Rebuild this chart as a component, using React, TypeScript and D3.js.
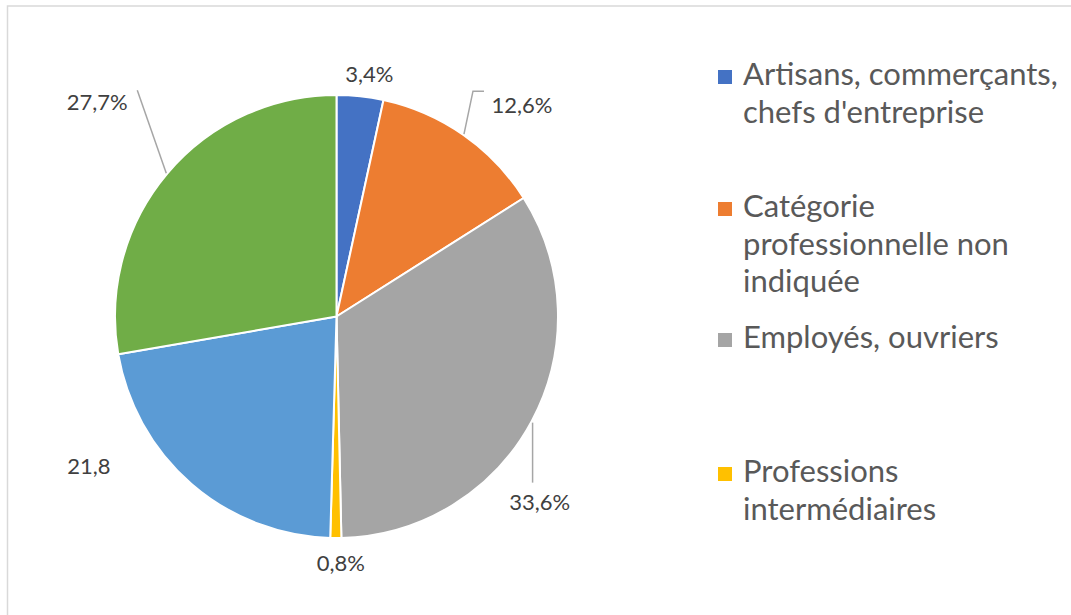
import React, { useEffect, useRef } from 'react'
import * as d3 from 'd3'

// slice data, clockwise from 12 o'clock
const categories = [
  'Artisans, commerçants, chefs d\'entreprise',
  'Catégorie professionnelle non indiquée',
  'Employés, ouvriers',
  'Professions intermédiaires',
  'Cadres',
  'Retraités',
]
const values = [3.4, 12.6, 33.6, 0.8, 21.8, 27.7]
const valueLabels = ['3,4%', '12,6%', '33,6%', '0,8%', '21,8', '27,7%']
const colors = ['#4472C4', '#ED7D31', '#A5A5A5', '#FFC000', '#5B9BD5', '#70AD47']

// legend as shown (only the first four fit in the box)
const legendLines = [
  ['Artisans, commerçants,', "chefs d'entreprise"],
  ['Catégorie', 'professionnelle non', 'indiquée'],
  ['Employés, ouvriers'],
  ['Professions', 'intermédiaires'],
]

// label layout: offset of label centre from the slice edge point, plus leader path
const labelOffsets: [number, number][] = [[9, -21], [58, -29], [7, 81], [5, 25], [-102, -18], [-69, -71]]
const leaders: ([number, number][] | null)[] = [
  null,
  [[0, 0], [9, -43], [20, -43]],
  [[0, 1], [0, 61]],
  null,
  null,
  [[0, 0], [-29, -83]],
]

const W = 1071
const H = 615

export default function App() {
  const ref = useRef<SVGSVGElement>(null)

  useEffect(() => {
    const svg = d3.select(ref.current)
    svg.selectAll('*').remove()

    svg.append('rect')
      .attr('x', 7.5).attr('y', 6)
      .attr('width', 1200).attr('height', 800)
      .attr('fill', '#fff')
      .attr('stroke', '#D9D9D9')
      .attr('stroke-width', 1.5)

    const cx = 336.5
    const cy = 316.5
    const r = 221.5

    const pie = d3.pie<number>().sort(null).value((d) => d)
    const arcs = pie(values)
    const arc = d3.arc<d3.PieArcDatum<number>>().innerRadius(0).outerRadius(r)

    const g = svg.append('g').attr('transform', `translate(${cx},${cy})`)

    g.selectAll('path.slice')
      .data(arcs)
      .enter()
      .append('path')
      .attr('class', 'slice')
      .attr('d', arc)
      .attr('fill', (d, i) => colors[i])
      .attr('stroke', '#fff')
      .attr('stroke-width', 2)
      .attr('stroke-linejoin', 'round')

    const edge = (d: d3.PieArcDatum<number>): [number, number] => {
      const a = (d.startAngle + d.endAngle) / 2
      return [Math.sin(a) * (r + 1), -Math.cos(a) * (r + 1)]
    }

    const line = d3.line()
    arcs.forEach((d, i) => {
      const [ex, ey] = edge(d)
      const lp = leaders[i]
      if (lp) {
        g.append('path')
          .attr('d', line(lp.map(([x, y]) => [ex + x, ey + y]) as [number, number][]))
          .attr('fill', 'none')
          .attr('stroke', '#A6A6A6')
          .attr('stroke-width', 1.5)
      }
      const [ox, oy] = labelOffsets[i]
      g.append('text')
        .attr('x', ex + ox)
        .attr('y', ey + oy + 7.5)
        .attr('text-anchor', 'middle')
        .attr('font-family', 'Lato, sans-serif')
        .attr('font-size', 22)
        .attr('fill', '#404040')
        .text(valueLabels[i])
    })

    // legend
    const lg = svg.append('g').attr('transform', 'translate(718,0)')
    const firstBaselines = [85, 217, 348, 482]
    legendLines.forEach((lines, i) => {
      const by = firstBaselines[i]
      lg.append('rect')
        .attr('x', 0).attr('y', by - 15)
        .attr('width', 14).attr('height', 14)
        .attr('fill', colors[i])
      lines.forEach((t, j) => {
        lg.append('text')
          .attr('x', 25)
          .attr('y', by + j * 37.5)
          .attr('font-family', 'Lato, sans-serif')
          .attr('font-size', 31)
          .attr('fill', '#595959')
          .text(t)
      })
    })
  }, [])

  return (
    <svg
      ref={ref}
      width={W}
      height={H}
      style={{ position: 'absolute', left: 0, top: 0, background: '#fff' }}
    />
  )
}
